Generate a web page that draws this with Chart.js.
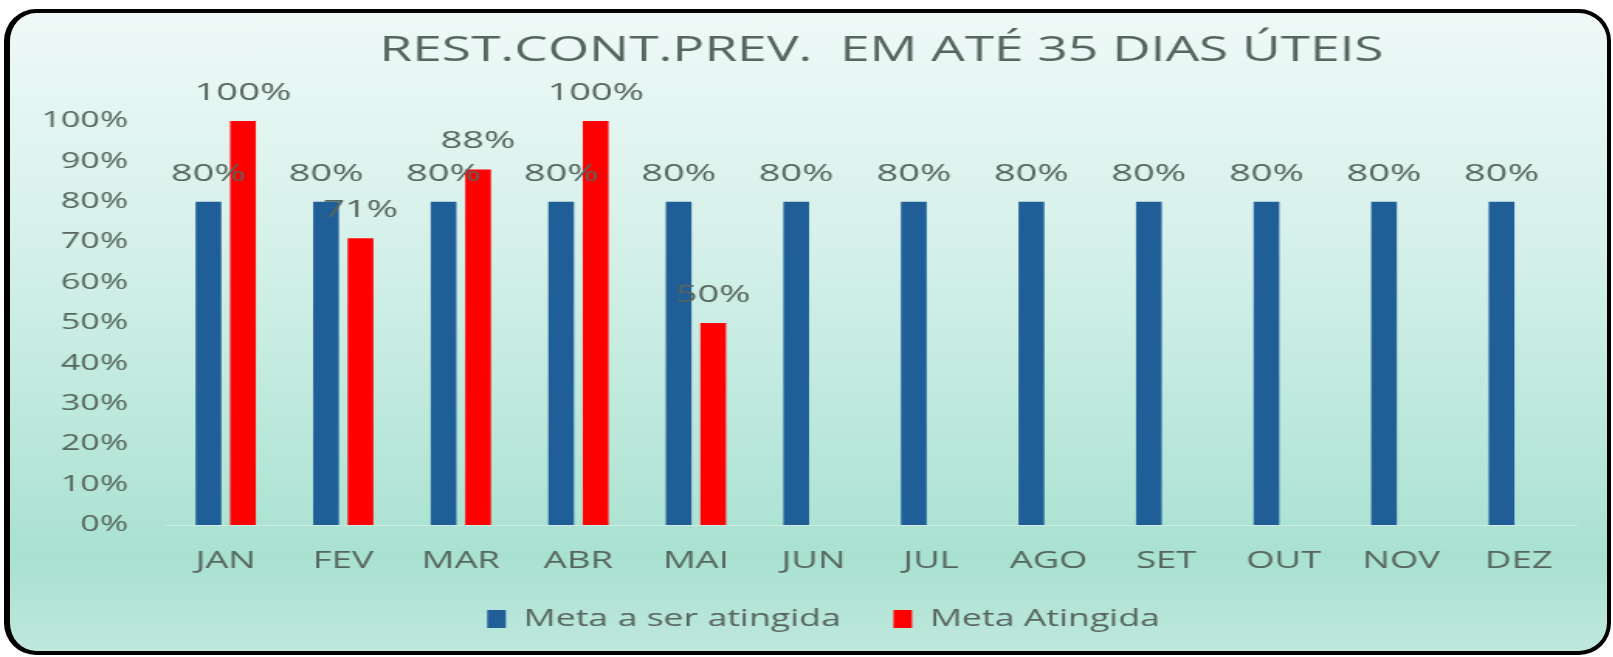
<!DOCTYPE html>
<html>
<head>
<meta charset="utf-8">
<script src="https://cdn.jsdelivr.net/npm/chart.js@4/dist/chart.umd.min.js"></script>
<style>
    html, body { margin: 0; padding: 0; background: #fff; }
    body { width: 1613px; height: 657px; position: relative; overflow: hidden; }
    #frame {
        position: absolute; left: 4px; top: 9px; width: 1607px; height: 646px;
        box-sizing: border-box;
        border: 4px solid #000; border-left-width: 6px;
        border-radius: 32px;
        background: linear-gradient(to bottom, #eff9f7 0%, #d6f1ea 35%, #b0e4d5 78%, #a9e1d1 85%, #bfe8dd 100%);
    }
    /* the original picture is stretched sideways, so the chart is too */
    #wrap {
        position: absolute; left: 0; top: 0; width: 1041px; height: 657px;
        transform: scaleX(1.55); transform-origin: 0 0;
    }
</style>
</head>
<body>
<div id="frame"></div>
<div id="wrap"><canvas id="metaChart"></canvas></div>
<script>
const months = ['JAN', 'FEV', 'MAR', 'ABR', 'MAI', 'JUN', 'JUL', 'AGO', 'SET', 'OUT', 'NOV', 'DEZ'];
const metaSerAtingida = [80, 80, 80, 80, 80, 80, 80, 80, 80, 80, 80, 80];
const metaAtingida = [100, 71, 88, 100, 50, null, null, null, null, null, null, null];
const chartTitle = 'REST.CONT.PREV.  EM ATÉ 35 DIAS ÚTEIS';

const textColor = '#56665f';
const fontFamily = '"Open Sans", sans-serif';

// value labels above each bar
const barLabels = {
    id: 'barLabels',
    afterDatasetsDraw(chart) {
        const ctx = chart.ctx;
        ctx.save();
        ctx.font = '24.5px ' + fontFamily;
        ctx.fillStyle = textColor;
        ctx.textAlign = 'center';
        ctx.textBaseline = 'middle';
        chart.data.datasets.forEach((ds, i) => {
            chart.getDatasetMeta(i).data.forEach((bar, j) => {
                const v = ds.data[j];
                if (v === null || v === undefined) return;
                ctx.fillText(v + '%', bar.x, bar.y - 28);
            });
        });
        ctx.restore();
    }
};

// title over the plot area
const titleText = {
    id: 'titleText',
    afterDraw(chart) {
        const ctx = chart.ctx;
        const area = chart.chartArea;
        ctx.save();
        ctx.font = '34.3px ' + fontFamily;
        ctx.fillStyle = textColor;
        ctx.textAlign = 'center';
        ctx.textBaseline = 'middle';
        ctx.fillText(chartTitle, (area.left + area.right) / 2 + 6, 51);
        ctx.restore();
    }
};

const ctx = document.getElementById('metaChart').getContext('2d');

new Chart(ctx, {
    type: 'bar',
    data: {
        labels: months,
        datasets: [
            {
                label: 'Meta a ser atingida',
                data: metaSerAtingida,
                backgroundColor: '#1f5e97',
                categoryPercentage: 0.587,
                barPercentage: 0.745
            },
            {
                label: 'Meta Atingida',
                data: metaAtingida,
                backgroundColor: '#ff0000',
                categoryPercentage: 0.587,
                barPercentage: 0.745
            }
        ]
    },
    plugins: [barLabels, titleText],
    options: {
        responsive: true,
        maintainAspectRatio: false,
        animation: false,
        layout: {
            padding: { left: 44.8, right: 23.2, top: 121, bottom: 16.5 }
        },
        plugins: {
            tooltip: { enabled: false },
            title: { display: false },
            legend: {
                position: 'bottom',
                labels: {
                    color: textColor,
                    font: { family: fontFamily, size: 23 },
                    boxWidth: 12,
                    boxHeight: 18,
                    padding: 34
                }
            }
        },
        scales: {
            x: {
                grid: { display: false, drawTicks: false },
                border: { display: true, color: '#cdebe3', width: 1 },
                ticks: {
                    color: textColor,
                    font: { family: fontFamily, size: 23.5, lineHeight: 1 },
                    padding: 24.3
                },
                afterFit: (scale) => { scale.height = 48.5; }
            },
            y: {
                min: 0,
                max: 100,
                grid: { display: false, drawTicks: false },
                border: { display: false },
                ticks: {
                    stepSize: 10,
                    color: textColor,
                    font: { family: fontFamily, size: 22 },
                    mirror: true,
                    crossAlign: 'far',
                    padding: -81,
                    callback: (v) => v + '%'
                },
                afterFit: (scale) => { scale.width = 62.9; }
            }
        }
    }
});
</script>
</body>
</html>
